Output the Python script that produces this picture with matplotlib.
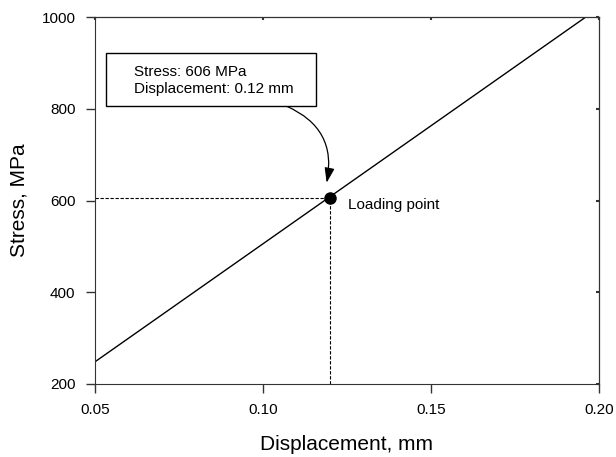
import matplotlib
matplotlib.use("Agg")
import matplotlib.pyplot as plt
from matplotlib.patches import Rectangle

plt.rcParams['font.family'] = ['Liberation Sans', 'DejaVu Sans']

# line data
disp = [0.05, 0.196]
stress = [248, 1000]

# loading point
load_x = 0.12
load_y = 606

xticks = [0.05, 0.10, 0.15, 0.20]
xlabels = ['0.05', '0.10', '0.15', '0.20']
yticks = [200, 400, 600, 800, 1000]

fig = plt.figure(figsize=(6.16, 4.57), dpi=100)
ax = fig.add_axes([0.154, 0.160, 0.818, 0.802])

ax.plot(disp, stress, color='black', lw=1)
ax.plot([0.05, load_x], [load_y, load_y], color='black', lw=0.8, ls=(0, (3, 1.5)))
ax.plot([load_x, load_x], [200, load_y], color='black', lw=0.8, ls=(0, (3, 1.5)))
ax.plot(load_x, load_y, 'o', color='black', ms=8, zorder=5)

ax.text(0.1253, 590, 'Loading point', fontsize=11, va='center', ha='left')

# annotation box
ax.add_patch(Rectangle((0.0533, 806), 0.0626, 115.5, fc='white', ec='black', lw=1, zorder=4))
ax.text(0.0617, 863, 'Stress: 606 MPa\nDisplacement: 0.12 mm', fontsize=11,
        va='center', ha='left', linespacing=1.25, zorder=5)
ax.annotate('', xy=(0.1190, 639), xytext=(0.1071, 806),
            arrowprops=dict(arrowstyle='-|>,head_length=0.9,head_width=0.3', color='black', lw=0.9,
                            connectionstyle='arc3,rad=-0.4',
                            shrinkA=0, shrinkB=0))

ax.set_xlim(0.05, 0.20)
ax.set_ylim(200, 1000)
ax.set_xticks(xticks)
ax.set_xticklabels(xlabels)
ax.set_yticks(yticks)
ax.tick_params(axis='both', direction='out', labelsize=11, length=6.5, width=1,
               colors='#333333', labelcolor='black', pad=7.5)
for s in ax.spines.values():
    s.set_color('#333333')

# tiny inward ticks on top and right
top = ax.secondary_xaxis('top')
top.set_xticks(xticks)
top.tick_params(direction='in', length=2, width=1.5, labeltop=False, colors='#333333')
right = ax.secondary_yaxis('right')
right.set_yticks(yticks)
right.tick_params(direction='in', length=2, width=1.5, labelright=False, colors='#333333')

ax.set_xlabel('Displacement, mm', fontsize=15, labelpad=13)
ax.set_ylabel('Stress, MPa', fontsize=15, labelpad=9)

fig.savefig('out.png', dpi=100)
